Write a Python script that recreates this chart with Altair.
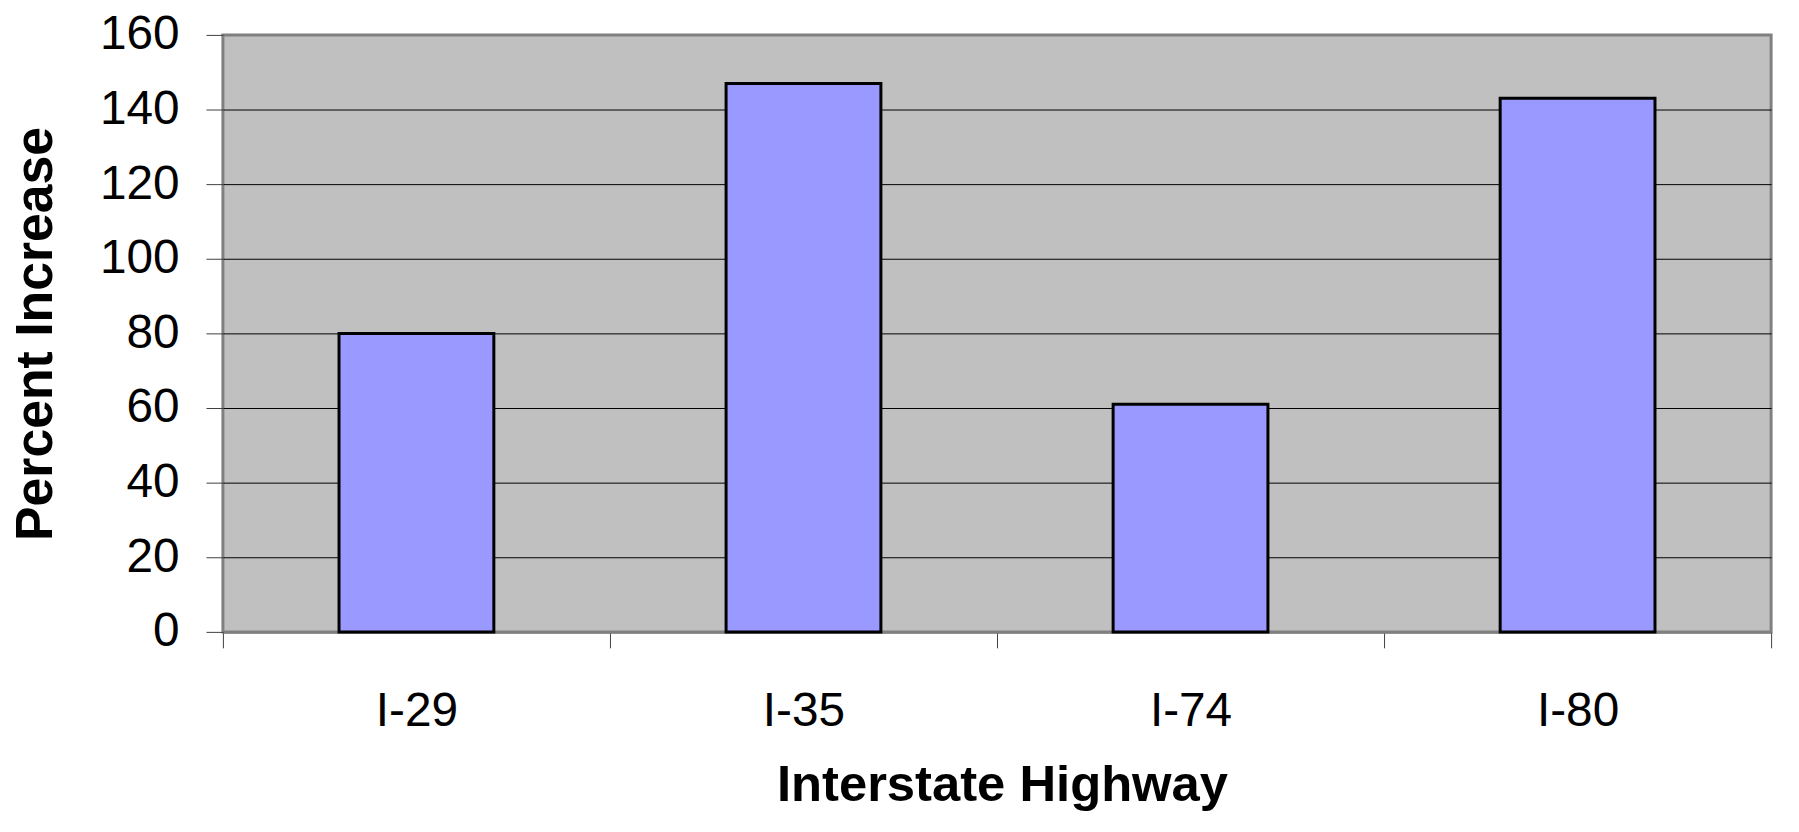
import altair as alt
import pandas as pd

highways = ["I-29", "I-35", "I-74", "I-80"]
pct_increase = [80, 147, 61, 143]
y_tick_values = [0, 20, 40, 60, 80, 100, 120, 140, 160]

df = pd.DataFrame({"Highway": highways, "Increase": pct_increase})

FONT = "Liberation Sans, Arial, Helvetica, sans-serif"

chart = (
    alt.Chart(df)
    .mark_bar(color="#9999FF", stroke="black", strokeWidth=3, width={"band": 0.4})
    .encode(
        x=alt.X(
            "Highway:N",
            sort=highways,
            title="Interstate Highway",
            scale=alt.Scale(paddingInner=0, paddingOuter=0),
            axis=alt.Axis(
                labelAngle=0,
                tickBand="extent",
                tickSize=16,
                tickColor="#404040",
                tickWidth=1,
                domainColor="#808080",
                domainWidth=3,
                labelFont=FONT,
                labelFontSize=48,
                labelColor="black",
                labelPadding=40,
                labelBaseline="top",
                titleFont=FONT,
                titleFontSize=51,
                titleFontWeight="bold",
                titleColor="black",
                titleBaseline="alphabetic",
                titleAlign="center",
                titleX=783,
                titleY=169,
                grid=False,
            ),
        ),
        y=alt.Y(
            "Increase:Q",
            title="Percent Increase",
            scale=alt.Scale(domain=[0, 160], nice=False),
            axis=alt.Axis(
                values=y_tick_values,
                tickSize=17,
                tickColor="#404040",
                tickWidth=1,
                domain=False,
                labelFont=FONT,
                labelFontSize=48,
                labelColor="black",
                labelPadding=27,
                grid=True,
                gridColor={
                    "condition": {
                        "test": "datum.value == 160 || datum.value == 0",
                        "value": "#808080",
                    },
                    "value": "black",
                },
                gridWidth=1,
                titleFont=FONT,
                titleFontSize=52,
                titleFontWeight="bold",
                titleColor="black",
                titleAngle=270,
                titleAlign="center",
                titleBaseline="alphabetic",
                titleX=-172,
                titleY=300,
            ),
        ),
    )
    .properties(
        width=1556,
        height=600,
        autosize=alt.AutoSizeParams(type="none"),
        padding={"left": 216, "top": 25, "right": 20, "bottom": 180},
        background="white",
    )
    .configure_view(fill="#C0C0C0", stroke="#808080", strokeWidth=3)
)

chart.save("out.html", embed_options={"renderer": "svg", "actions": False})
